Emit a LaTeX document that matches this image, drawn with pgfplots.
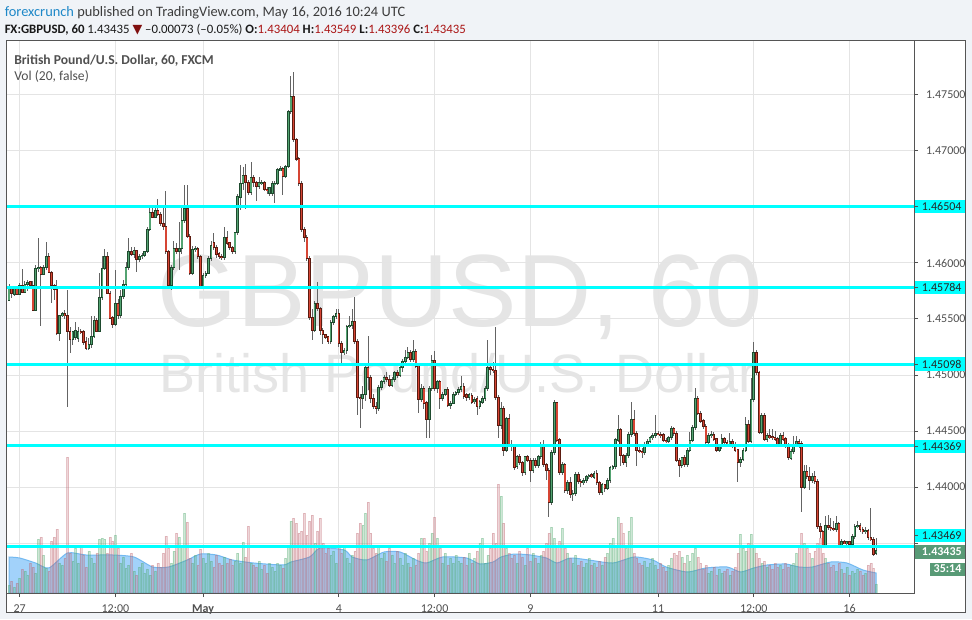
\documentclass[border=0pt]{standalone}
\usepackage{pgfplots}
\pgfplotsset{compat=1.18}
\usepackage{pgfplotstable}
\usepackage{fontspec}
\setmainfont{Carlito}
\newfontfamily\wmfont{Liberation Sans}
\newfontfamily\symfont{DejaVu Sans}
\definecolor{bgpage}{RGB}{240,243,247}
\definecolor{panelborder}{RGB}{85,85,85}
\definecolor{gridc}{RGB}{228,228,228}
\definecolor{upfill}{RGB}{83,163,113}
\definecolor{upline}{RGB}{30,74,46}
\definecolor{dnfill}{RGB}{214,69,52}
\definecolor{dnline}{RGB}{92,27,16}
\definecolor{wick}{RGB}{100,100,100}
\definecolor{cyanl}{RGB}{0,255,255}
\definecolor{wm}{RGB}{229,229,229}
\definecolor{labelc}{RGB}{80,80,80}
\definecolor{hdrred}{RGB}{170,20,20}
\definecolor{hdrblue}{RGB}{30,136,200}
\definecolor{hdrgray}{RGB}{60,60,60}
\definecolor{curgreen}{RGB}{88,154,118}
\definecolor{maarea}{RGB}{162,210,250}
\definecolor{maline}{RGB}{115,185,240}
\definecolor{volup}{RGB}{80,170,110}
\definecolor{voldn}{RGB}{190,100,110}

\pgfplotstableread{
i O H L C V
0 1.4567 1.4581 1.4566 1.4579 8
1 1.4579 1.4579 1.4569 1.4573 12
2 1.4572 1.4579 1.4571 1.4577 6
3 1.4577 1.4578 1.4572 1.4572 10
4 1.4572 1.4582 1.4572 1.4580 15
5 1.4580 1.4595 1.4573 1.4574 24
6 1.4574 1.4584 1.4573 1.4581 22
7 1.4581 1.4585 1.4575 1.4583 18
8 1.4583 1.4584 1.4579 1.4580 30
9 1.4580 1.4584 1.4557 1.4558 26
10 1.4558 1.4598 1.4557 1.4595 20
11 1.4595 1.4622 1.4592 1.4596 54
12 1.4596 1.4597 1.4544 1.4590 56
13 1.4590 1.4598 1.4589 1.4596 38
14 1.4596 1.4619 1.4594 1.4606 25
15 1.4606 1.4609 1.4591 1.4592 22
16 1.4592 1.4593 1.4564 1.4580 52
17 1.4580 1.4581 1.4567 1.4576 56
18 1.4576 1.4585 1.4536 1.4537 64
19 1.4537 1.4554 1.4530 1.4553 30
20 1.4553 1.4556 1.4552 1.4555 28
21 1.4555 1.4558 1.4550 1.4553 35
22 1.4553 1.4576 1.4471 1.4539 136
23 1.4539 1.4543 1.4520 1.4532 40
24 1.4532 1.4539 1.4527 1.4539 32
25 1.4534 1.4547 1.4531 1.4540 45
26 1.4533 1.4543 1.4530 1.4539 30
27 1.4539 1.4541 1.4537 1.4538 48
28 1.4539 1.4540 1.4527 1.4529 38
29 1.4530 1.4534 1.4522 1.4524 26
30 1.4524 1.4533 1.4522 1.4527 42
31 1.4527 1.4553 1.4524 1.4534 35
32 1.4534 1.4553 1.4533 1.4549 30
33 1.4549 1.4551 1.4539 1.4539 40
34 1.4539 1.4591 1.4539 1.4569 54
35 1.4569 1.4606 1.4567 1.4595 55
36 1.4595 1.4613 1.4594 1.4606 54
37 1.4606 1.4610 1.4572 1.4573 40
38 1.4573 1.4575 1.4550 1.4551 56
39 1.4551 1.4553 1.4542 1.4545 52
40 1.4545 1.4594 1.4544 1.4564 58
41 1.4564 1.4568 1.4550 1.4553 45
42 1.4553 1.4576 1.4551 1.4570 30
43 1.4570 1.4585 1.4568 1.4581 36
44 1.4581 1.4601 1.4578 1.4596 25
45 1.4596 1.4622 1.4594 1.4610 28
46 1.4610 1.4614 1.4606 1.4608 40
47 1.4608 1.4614 1.4605 1.4611 22
48 1.4611 1.4612 1.4592 1.4603 18
49 1.4603 1.4608 1.4601 1.4606 26
50 1.4606 1.4609 1.4604 1.4607 30
51 1.4607 1.4611 1.4605 1.4610 20
52 1.4610 1.4632 1.4609 1.4630 24
53 1.4630 1.4652 1.4629 1.4645 18
54 1.4645 1.4652 1.4640 1.4641 28
55 1.4641 1.4652 1.4640 1.4647 22
56 1.4647 1.4657 1.4642 1.4643 30
57 1.4643 1.4646 1.4633 1.4635 26
58 1.4635 1.4650 1.4630 1.4633 40
59 1.4633 1.4664 1.4608 1.4610 57
60 1.4610 1.4612 1.4578 1.4580 45
61 1.4580 1.4598 1.4576 1.4596 30
62 1.4596 1.4620 1.4594 1.4613 42
63 1.4613 1.4618 1.4608 1.4610 60
64 1.4610 1.4637 1.4594 1.4613 56
65 1.4613 1.4649 1.4608 1.4638 48
66 1.4638 1.4670 1.4636 1.4649 80
67 1.4649 1.4670 1.4622 1.4624 71
68 1.4624 1.4626 1.4589 1.4591 35
69 1.4591 1.4615 1.4589 1.4612 30
70 1.4612 1.4615 1.4610 1.4613 38
71 1.4613 1.4614 1.4604 1.4606 28
72 1.4606 1.4607 1.4577 1.4579 44
73 1.4579 1.4591 1.4577 1.4589 35
74 1.4589 1.4593 1.4587 1.4591 30
75 1.4591 1.4606 1.4590 1.4604 40
76 1.4604 1.4620 1.4602 1.4616 32
77 1.4618 1.4627 1.4612 1.4614 26
78 1.4614 1.4616 1.4605 1.4608 38
79 1.4608 1.4610 1.4604 1.4606 30
80 1.4606 1.4608 1.4603 1.4605 28
81 1.4605 1.4632 1.4603 1.4623 36
82 1.4623 1.4629 1.4616 1.4618 30
83 1.4618 1.4619 1.4612 1.4614 34
84 1.4614 1.4615 1.4608 1.4610 28
85 1.4610 1.4628 1.4608 1.4627 32
86 1.4627 1.4662 1.4625 1.4659 40
87 1.4659 1.4688 1.4647 1.4671 30
88 1.4671 1.4686 1.4665 1.4678 51
89 1.4678 1.4688 1.4648 1.4672 36
90 1.4672 1.4674 1.4661 1.4663 67
91 1.4663 1.4690 1.4661 1.4676 30
92 1.4676 1.4679 1.4668 1.4672 28
93 1.4672 1.4673 1.4655 1.4668 26
94 1.4668 1.4677 1.4666 1.4672 32
95 1.4671 1.4674 1.4670 1.4672 24
96 1.4672 1.4673 1.4664 1.4666 28
97 1.4666 1.4668 1.4662 1.4665 20
98 1.4662 1.4668 1.4660 1.4667 30
99 1.4662 1.4673 1.4660 1.4671 26
100 1.4670 1.4673 1.4654 1.4671 22
101 1.4671 1.4685 1.4670 1.4683 30
102 1.4683 1.4687 1.4682 1.4684 28
103 1.4684 1.4686 1.4661 1.4677 25
104 1.4677 1.4688 1.4676 1.4686 35
105 1.4686 1.4737 1.4685 1.4735 48
106 1.4735 1.4767 1.4733 1.4749 72
107 1.4749 1.4771 1.4708 1.4710 75
108 1.4710 1.4712 1.4691 1.4693 70
109 1.4693 1.4695 1.4669 1.4671 60
110 1.4671 1.4673 1.4628 1.4630 62
111 1.4630 1.4632 1.4619 1.4623 80
112 1.4623 1.4625 1.4602 1.4604 58
113 1.4604 1.4606 1.4549 1.4551 72
114 1.4551 1.4559 1.4531 1.4540 78
115 1.4540 1.4566 1.4538 1.4564 50
116 1.4564 1.4583 1.4557 1.4559 62
117 1.4559 1.4561 1.4536 1.4540 75
118 1.4540 1.4542 1.4528 1.4536 50
119 1.4536 1.4537 1.4532 1.4534 40
120 1.4534 1.4535 1.4528 1.4530 45
121 1.4530 1.4549 1.4528 1.4547 38
122 1.4547 1.4554 1.4545 1.4552 42
123 1.4552 1.4559 1.4550 1.4555 30
124 1.4555 1.4559 1.4525 1.4528 46
125 1.4528 1.4530 1.4510 1.4520 40
126 1.4520 1.4524 1.4518 1.4522 48
127 1.4522 1.4545 1.4519 1.4543 35
128 1.4543 1.4553 1.4542 1.4544 30
129 1.4544 1.4559 1.4541 1.4548 38
130 1.4548 1.4570 1.4528 1.4530 42
131 1.4530 1.4532 1.4464 1.4480 60
132 1.4480 1.4483 1.4453 1.4479 70
133 1.4479 1.4490 1.4470 1.4483 68
134 1.4483 1.4509 1.4477 1.4507 80
135 1.4507 1.4535 1.4487 1.4498 91
136 1.4498 1.4500 1.4475 1.4479 60
137 1.4479 1.4483 1.4470 1.4472 45
138 1.4472 1.4476 1.4465 1.4470 40
139 1.4470 1.4491 1.4468 1.4489 48
140 1.4489 1.4496 1.4487 1.4494 35
141 1.4494 1.4500 1.4492 1.4498 40
142 1.4498 1.4503 1.4494 1.4496 32
143 1.4496 1.4500 1.4489 1.4491 45
144 1.4491 1.4498 1.4489 1.4496 38
145 1.4496 1.4504 1.4494 1.4502 30
146 1.4502 1.4505 1.4497 1.4500 42
147 1.4500 1.4509 1.4498 1.4507 35
148 1.4507 1.4514 1.4503 1.4512 28
149 1.4512 1.4522 1.4510 1.4516 40
150 1.4516 1.4525 1.4514 1.4520 30
151 1.4520 1.4522 1.4512 1.4514 26
152 1.4514 1.4531 1.4512 1.4521 35
153 1.4521 1.4523 1.4506 1.4508 28
154 1.4508 1.4510 1.4466 1.4478 40
155 1.4478 1.4492 1.4476 1.4488 55
156 1.4488 1.4490 1.4470 1.4475 55
157 1.4475 1.4477 1.4444 1.4460 42
158 1.4460 1.4490 1.4444 1.4488 50
159 1.4488 1.4518 1.4486 1.4513 60
160 1.4513 1.4521 1.4486 1.4488 76
161 1.4488 1.4496 1.4484 1.4494 55
162 1.4494 1.4496 1.4470 1.4479 45
163 1.4479 1.4485 1.4477 1.4483 30
164 1.4483 1.4488 1.4481 1.4487 40
165 1.4487 1.4489 1.4471 1.4473 28
166 1.4473 1.4477 1.4470 1.4475 35
167 1.4475 1.4485 1.4474 1.4483 30
168 1.4483 1.4486 1.4481 1.4484 38
169 1.4484 1.4489 1.4482 1.4487 32
170 1.4487 1.4499 1.4485 1.4490 30
171 1.4490 1.4493 1.4479 1.4481 36
172 1.4483 1.4484 1.4477 1.4480 28
173 1.4480 1.4484 1.4478 1.4483 40
174 1.4482 1.4484 1.4474 1.4476 30
175 1.4476 1.4480 1.4474 1.4478 35
176 1.4479 1.4481 1.4464 1.4472 42
177 1.4472 1.4478 1.4470 1.4476 50
178 1.4476 1.4481 1.4474 1.4479 55
179 1.4479 1.4490 1.4477 1.4488 30
180 1.4488 1.4531 1.4486 1.4507 38
181 1.4507 1.4510 1.4500 1.4505 45
182 1.4505 1.4512 1.4502 1.4504 60
183 1.4504 1.4543 1.4478 1.4480 50
184 1.4480 1.4482 1.4444 1.4455 109
185 1.4455 1.4476 1.4452 1.4470 97
186 1.4470 1.4472 1.4428 1.4433 70
187 1.4433 1.4463 1.4431 1.4461 45
188 1.4461 1.4465 1.4436 1.4438 40
189 1.4438 1.4442 1.4432 1.4436 35
190 1.4436 1.4437 1.4415 1.4418 38
191 1.4418 1.4429 1.4416 1.4427 30
192 1.4427 1.4430 1.4420 1.4422 42
193 1.4422 1.4423 1.4410 1.4413 36
194 1.4413 1.4428 1.4411 1.4427 28
195 1.4427 1.4429 1.4422 1.4424 45
196 1.4424 1.4426 1.4405 1.4415 32
197 1.4415 1.4426 1.4413 1.4424 40
198 1.4424 1.4426 1.4417 1.4419 35
199 1.4419 1.4429 1.4417 1.4427 30
200 1.4427 1.4440 1.4425 1.4438 38
201 1.4438 1.4442 1.4418 1.4420 42
202 1.4420 1.4421 1.4406 1.4415 50
203 1.4415 1.4417 1.4373 1.4386 60
204 1.4386 1.4433 1.4384 1.4431 66
205 1.4431 1.4478 1.4429 1.4475 55
206 1.4475 1.4476 1.4440 1.4442 48
207 1.4442 1.4444 1.4411 1.4413 52
208 1.4413 1.4422 1.4411 1.4420 65
209 1.4420 1.4421 1.4395 1.4397 45
210 1.4397 1.4406 1.4394 1.4404 40
211 1.4404 1.4409 1.4390 1.4393 35
212 1.4393 1.4397 1.4388 1.4394 30
213 1.4394 1.4413 1.4392 1.4411 38
214 1.4411 1.4413 1.4403 1.4405 28
215 1.4405 1.4407 1.4400 1.4404 32
216 1.4404 1.4408 1.4402 1.4406 26
217 1.4406 1.4411 1.4404 1.4409 30
218 1.4409 1.4412 1.4407 1.4410 35
219 1.4411 1.4413 1.4408 1.4409 28
220 1.4409 1.4414 1.4407 1.4412 30
221 1.4412 1.4415 1.4402 1.4404 26
222 1.4404 1.4405 1.4393 1.4395 32
223 1.4395 1.4404 1.4393 1.4402 28
224 1.4402 1.4403 1.4396 1.4399 36
225 1.4399 1.4408 1.4397 1.4406 40
226 1.4406 1.4419 1.4404 1.4417 50
227 1.4417 1.4420 1.4415 1.4418 55
228 1.4418 1.4444 1.4416 1.4442 48
229 1.4442 1.4464 1.4440 1.4451 76
230 1.4451 1.4453 1.4419 1.4428 70
231 1.4428 1.4430 1.4420 1.4422 60
232 1.4422 1.4430 1.4418 1.4428 45
233 1.4428 1.4449 1.4426 1.4447 62
234 1.4447 1.4476 1.4445 1.4460 76
235 1.4460 1.4469 1.4446 1.4448 40
236 1.4448 1.4450 1.4419 1.4433 35
237 1.4433 1.4436 1.4430 1.4432 30
238 1.4432 1.4435 1.4426 1.4431 28
239 1.4431 1.4440 1.4429 1.4438 32
240 1.4438 1.4443 1.4436 1.4441 26
241 1.4441 1.4446 1.4439 1.4444 30
242 1.4444 1.4448 1.4442 1.4446 35
243 1.4446 1.4464 1.4444 1.4448 28
244 1.4448 1.4450 1.4446 1.4447 24
245 1.4447 1.4449 1.4444 1.4446 30
246 1.4447 1.4448 1.4440 1.4442 26
247 1.4442 1.4444 1.4439 1.4441 22
248 1.4441 1.4446 1.4439 1.4444 28
249 1.4444 1.4455 1.4442 1.4452 35
250 1.4452 1.4454 1.4446 1.4448 40
251 1.4448 1.4450 1.4422 1.4424 38
252 1.4424 1.4426 1.4409 1.4419 42
253 1.4419 1.4427 1.4417 1.4426 36
254 1.4426 1.4429 1.4418 1.4420 30
255 1.4420 1.4435 1.4418 1.4433 38
256 1.4433 1.4449 1.4431 1.4442 32
257 1.4442 1.4455 1.4440 1.4453 40
258 1.4453 1.4488 1.4451 1.4479 45
259 1.4479 1.4481 1.4464 1.4466 36
260 1.4466 1.4468 1.4457 1.4459 30
261 1.4459 1.4461 1.4452 1.4454 24
262 1.4454 1.4456 1.4438 1.4440 28
263 1.4440 1.4448 1.4438 1.4446 20
264 1.4446 1.4450 1.4444 1.4447 22
265 1.4447 1.4449 1.4441 1.4443 26
266 1.4443 1.4444 1.4431 1.4433 18
267 1.4433 1.4438 1.4431 1.4436 24
268 1.4436 1.4447 1.4434 1.4443 20
269 1.4443 1.4445 1.4438 1.4440 22
270 1.4440 1.4442 1.4436 1.4438 24
271 1.4438 1.4448 1.4436 1.4441 18
272 1.4441 1.4443 1.4435 1.4438 22
273 1.4438 1.4440 1.4431 1.4433 26
274 1.4433 1.4434 1.4405 1.4422 40
275 1.4422 1.4427 1.4418 1.4425 59
276 1.4425 1.4435 1.4423 1.4433 45
277 1.4433 1.4463 1.4431 1.4456 42
278 1.4456 1.4460 1.4439 1.4441 50
279 1.4441 1.4497 1.4439 1.4478 59
280 1.4478 1.4530 1.4476 1.4520 46
281 1.4520 1.4522 1.4500 1.4502 40
282 1.4502 1.4504 1.4447 1.4449 35
283 1.4449 1.4466 1.4447 1.4464 30
284 1.4464 1.4466 1.4441 1.4443 32
285 1.4443 1.4448 1.4440 1.4446 26
286 1.4446 1.4452 1.4443 1.4444 28
287 1.4445 1.4452 1.4442 1.4444 24
288 1.4444 1.4450 1.4441 1.4443 30
289 1.4443 1.4445 1.4436 1.4438 26
290 1.4438 1.4448 1.4436 1.4446 28
291 1.4446 1.4449 1.4441 1.4443 24
292 1.4443 1.4445 1.4435 1.4437 30
293 1.4437 1.4439 1.4424 1.4426 26
294 1.4426 1.4434 1.4424 1.4432 28
295 1.4432 1.4446 1.4430 1.4438 30
296 1.4438 1.4446 1.4436 1.4441 40
297 1.4441 1.4443 1.4435 1.4439 48
298 1.4439 1.4441 1.4378 1.4400 60
299 1.4400 1.4420 1.4398 1.4414 50
300 1.4414 1.4420 1.4407 1.4409 45
301 1.4409 1.4418 1.4397 1.4406 40
302 1.4406 1.4413 1.4404 1.4409 35
303 1.4409 1.4414 1.4403 1.4405 42
304 1.4405 1.4407 1.4363 1.4365 50
305 1.4365 1.4368 1.4355 1.4360 55
306 1.4360 1.4362 1.4346 1.4348 40
307 1.4348 1.4374 1.4346 1.4366 35
308 1.4366 1.4375 1.4362 1.4364 30
309 1.4364 1.4372 1.4361 1.4363 26
310 1.4363 1.4370 1.4361 1.4362 28
311 1.4362 1.4374 1.4360 1.4367 22
312 1.4367 1.4369 1.4346 1.4348 30
313 1.4348 1.4354 1.4346 1.4351 24
314 1.4351 1.4353 1.4349 1.4350 20
315 1.4350 1.4352 1.4348 1.4351 26
316 1.4351 1.4352 1.4347 1.4349 18
317 1.4349 1.4358 1.4347 1.4356 22
318 1.4356 1.4367 1.4354 1.4365 20
319 1.4365 1.4370 1.4363 1.4366 24
320 1.4366 1.4368 1.4360 1.4362 22
321 1.4362 1.4364 1.4358 1.4360 18
322 1.4360 1.4364 1.4358 1.4361 20
323 1.4361 1.4363 1.4353 1.4355 28
324 1.4355 1.4381 1.4352 1.4353 30
325 1.4353 1.4355 1.4338 1.4340 25
326 1.43404 1.43549 1.43396 1.43435 9
}\candles

\pgfplotsset{
  tvaxis/.style={
    at={(4.875pt,19.5pt)}, anchor=south west,
    scale only axis, width=680.625pt, height=414pt,
    xmin=-0.94, xmax=340.23,
  },
  pricey/.style={ymin=1.430536, ymax=1.479821},
}

\begin{document}
\begin{tikzpicture}[x=0.75pt,y=0.75pt]
% background and panel
\fill[bgpage] (0,0) rectangle (972,619);
\fill[white] (6.5,7) rectangle (965,578);

% watermark
\node[anchor=base, inner sep=0pt, text=wm, font=\wmfont\fontsize{77}{77}\selectfont] at (460,293) {GBPUSD, 60};
\node[anchor=base, inner sep=0pt, text=wm, font=\wmfont\fontsize{40.5}{40.5}\selectfont] at (458,227) {British Pound/U.S. Dollar};

% grid, ticks and tick labels
\begin{axis}[tvaxis, pricey,
  axis line style={draw=none},
  grid=major, major grid style={gridc, line width=0.75pt},
  ytick={1.435,1.440,1.445,1.450,1.455,1.460,1.465,1.470,1.475},
  yticklabels={,1.44000,1.44500,1.45000,1.45500,1.46000,,1.47000,1.47500},
  xtick={4,40,73,124,160,196,244,280,316},
  xticklabels={27,12:00,\textbf{May},4,12:00,9,11,12:00,16},
  ytick pos=right, yticklabel pos=right, xtick pos=bottom,
  tick align=outside, major tick length=3pt,
  tick style={labelc, line width=0.75pt},
  yticklabel style={anchor=west, inner sep=0pt, xshift=5.8pt, font=\fontsize{9}{10}\selectfont, text=labelc},
  xticklabel style={anchor=base, inner sep=0pt, yshift=-11.25pt, font=\fontsize{9}{10}\selectfont, text=labelc},
]
\addplot[draw=none, forget plot] coordinates {(0,1.45)};
\end{axis}

% volume
\begin{axis}[tvaxis, ymin=0, ymax=552, hide axis]
\addplot[fill=maarea, draw=maline, line width=0.75pt, smooth, tension=0.4] coordinates {
(0,36) (4,35) (10,30) (15,25) (22,40) (29,38) (39,38) (47,36) (54,26) (60,26) (67,33) (72,39) (78,38) (84,33) (92,30) (103,28) (106,31) (113,36) (117,45) (126,43) (129,36) (134.5,33) (141,41) (147,41) (153,33) (157,30) (163,36) (172,35) (177,29) (182,31) (185,36) (190,39) (196,38) (202,35) (206,30) (211,35) (218,33) (227,30) (235,36) (242,33) (247,26) (255,21) (262,25) (270,26) (275,21) (280,25) (285,28) (292,29) (297,26) (302,26) (309,31) (315,30) (321,23) (326,20)
} \closedcycle;
\addplot[ybar, bar width=1.5pt, bar shift=0pt, fill=volup, fill opacity=0.28, draw=volup, draw opacity=0.32, line width=0.4pt]
  table[x=i, y expr={\thisrow{C}>=\thisrow{O} ? \thisrow{V} : nan}] {\candles};
\addplot[ybar, bar width=1.5pt, bar shift=0pt, fill=voldn, fill opacity=0.26, draw=voldn, draw opacity=0.32, line width=0.4pt]
  table[x=i, y expr={\thisrow{C}<\thisrow{O} ? \thisrow{V} : nan}] {\candles};
\end{axis}

% candles
\begin{axis}[tvaxis, pricey, hide axis]
\addplot[draw=none, mark=none, error bars/.cd, y dir=both, y explicit, error mark=none,
  error bar style={draw=wick, line width=0.75pt}]
  table[x=i, y expr={(\thisrow{H}+\thisrow{L})/2}, y error expr={(\thisrow{H}-\thisrow{L})/2}] {\candles};
\addplot[draw=none, mark=none, error bars/.cd, y dir=both, y explicit, error mark=none,
  error bar style={draw=upline, line width=1.95pt}]
  table[x=i, y expr={\thisrow{C}>=\thisrow{O} ? (\thisrow{O}+\thisrow{C})/2 : nan},
        y error expr={abs(\thisrow{C}-\thisrow{O})/2+0.00005}] {\candles};
\addplot[draw=none, mark=none, error bars/.cd, y dir=both, y explicit, error mark=none,
  error bar style={draw=upfill, line width=0.9pt}]
  table[x=i, y expr={\thisrow{C}>=\thisrow{O} ? (\thisrow{O}+\thisrow{C})/2 : nan},
        y error expr={max(abs(\thisrow{C}-\thisrow{O})/2-0.00004,0)}] {\candles};
\addplot[draw=none, mark=none, error bars/.cd, y dir=both, y explicit, error mark=none,
  error bar style={draw=dnline, line width=1.95pt}]
  table[x=i, y expr={\thisrow{C}<\thisrow{O} ? (\thisrow{O}+\thisrow{C})/2 : nan},
        y error expr={abs(\thisrow{C}-\thisrow{O})/2+0.00005}] {\candles};
\addplot[draw=none, mark=none, error bars/.cd, y dir=both, y explicit, error mark=none,
  error bar style={draw=dnfill, line width=0.9pt}]
  table[x=i, y expr={\thisrow{C}<\thisrow{O} ? (\thisrow{O}+\thisrow{C})/2 : nan},
        y error expr={max(abs(\thisrow{C}-\thisrow{O})/2-0.00004,0)}] {\candles};
% horizontal levels
\addplot[cyanl, line width=2.25pt] coordinates {(-2,1.46504) (342,1.46504)};
\addplot[cyanl, line width=2.25pt] coordinates {(-2,1.45784) (342,1.45784)};
\addplot[cyanl, line width=2.25pt] coordinates {(-2,1.45098) (342,1.45098)};
\addplot[cyanl, line width=2.25pt] coordinates {(-2,1.44369) (342,1.44369)};
\addplot[cyanl, line width=2.25pt] coordinates {(-2,1.43469) (342,1.43469)};
\end{axis}

% axis lines and panel border
\draw[panelborder, line width=0.75pt] (6.5,26) -- (914,26) -- (914,578);
\draw[panelborder, line width=0.75pt] (6.5,7) rectangle (965,578);

% price labels of levels
\foreach \yy/\txt in {412.4/1.46504, 331.8/1.45784, 255/1.45098, 172.6/1.44369, 83.5/1.43469}{
  \fill[cyanl] (914.5,\yy-6.7) rectangle (965,\yy+6.7);
  \draw[labelc, line width=0.75pt] (914.5,\yy) -- (918,\yy);
  \node[anchor=west, inner sep=0pt, font=\fontsize{9}{10}\selectfont, text=black!85] at (921.7,\yy) {\txt};
}
\fill[curgreen] (914.5,60.3) rectangle (965,73.7);
\node[anchor=west, inner sep=0pt, font=\bfseries\fontsize{9}{10}\selectfont, text=white] at (921.7,67) {1.43435};
\fill[curgreen] (930,43.5) rectangle (965,56.5);
\node[inner sep=0pt, font=\bfseries\fontsize{9}{10}\selectfont, text=white] at (947.5,50) {35:14};

% legend
\node[anchor=base west, inner sep=0pt, font=\bfseries\fontsize{10.2}{11}\selectfont, text=labelc] at (14,554.7) {British Pound/U.S. Dollar, 60, FXCM};
\node[anchor=base west, inner sep=0pt, font=\fontsize{10.2}{11}\selectfont, text=labelc] at (14,538) {Vol (20, false)};

% header
\node[anchor=base west, inner sep=0pt, font=\fontsize{10.8}{12}\selectfont] at (4.5,602.5)
  {\textcolor{hdrblue}{forexcrunch} \textcolor{hdrgray}{published on TradingView.com, May 16, 2016 10:24 UTC}};
\node[anchor=base west, inner sep=0pt, font=\fontsize{9.6}{11}\selectfont, text=black!90] at (4.5,585.5)
  {\textbf{FX:GBPUSD, 60} 1.43435 {\symfont\fontsize{9.5}{10}\selectfont\textcolor{hdrred!75!black}{▼}} –0.00073 (–0.05\%) \textbf{O:}\textcolor{hdrred}{1.43404} \textbf{H:}\textcolor{hdrred}{1.43549} \textbf{L:}\textcolor{hdrred}{1.43396} \textbf{C:}\textcolor{hdrred}{1.43435}};

\pgfresetboundingbox
\path (0,0) rectangle (972,619);
\end{tikzpicture}
\end{document}
